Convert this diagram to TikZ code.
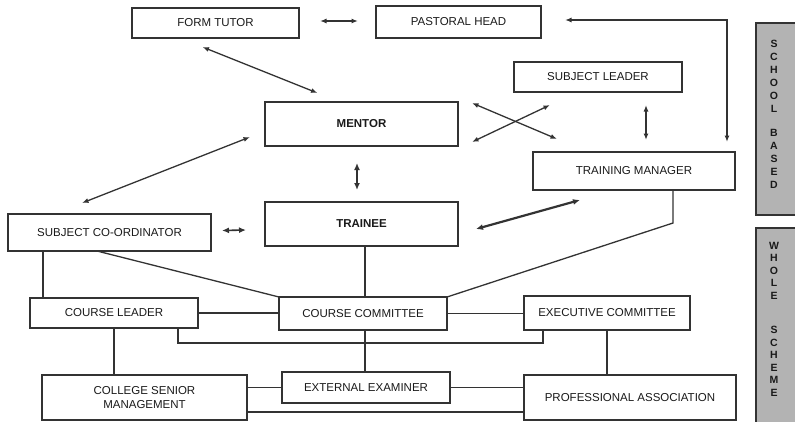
\documentclass[tikz,border=0pt]{standalone}
\usepackage{fontspec}
\setmainfont{Liberation Sans}
\usetikzlibrary{arrows.meta,calc}

\definecolor{ink}{HTML}{333333}
\definecolor{txt}{HTML}{1A1A1A}
\definecolor{bargray}{HTML}{B3B3B3}

\tikzset{
  box/.style={draw=ink, line width=1.4pt, fill=white, inner sep=0pt, outer sep=0pt,
              font=\fontsize{11.5}{14}\selectfont, text=txt, align=center},
  thickbox/.style={box, line width=2.8pt},
  link/.style={draw=ink, line width=1.3pt},
  biarrow/.style={link, {Latex[length=6.5pt,width=5pt]}-{Latex[length=6.5pt,width=5pt]}},
  boldarrow/.style={draw=ink, line width=2.2pt, {Latex[length=7pt,width=6pt]}-{Latex[length=7pt,width=6pt]}},
  bar/.style={draw=ink, line width=1.2pt, fill=bargray, inner sep=0pt, outer sep=0pt},
  barlabel/.style={font=\bfseries\fontsize{10.5}{13}\selectfont, text=txt, align=center, inner sep=0pt}
}

\begin{document}
\begin{tikzpicture}[x=1pt, y=-1pt]
\useasboundingbox (0,0) rectangle (795,421);

% school-based roles
\node[box, minimum width=167, minimum height=30] (ft) at (215.5,23) {FORM TUTOR};
\node[box, minimum width=165, minimum height=32] (ph) at (458.5,22) {PASTORAL HEAD};
\node[box, minimum width=168, minimum height=30] (sl) at (598,77) {SUBJECT LEADER};
\node[thickbox, minimum width=193, minimum height=44] (me) at (361.5,124) {\bfseries MENTOR};
\node[thickbox, minimum width=202, minimum height=38] (tm) at (634,171) {TRAINING MANAGER};
\node[thickbox, minimum width=193, minimum height=44] (tr) at (361.5,224) {\bfseries TRAINEE};
\node[thickbox, minimum width=203, minimum height=37] (sc) at (109.5,232.5) {SUBJECT CO-ORDINATOR};

% whole-scheme bodies
\node[box, minimum width=168, minimum height=30] (cl) at (114,313) {COURSE LEADER};
\node[box, minimum width=168, minimum height=33] (cc) at (363,313.5) {COURSE COMMITTEE};
\node[box, minimum width=166, minimum height=34] (ec) at (607,313) {EXECUTIVE COMMITTEE};
\node[box, minimum width=205, minimum height=45] (cs) at (144.5,397.5) {COLLEGE SENIOR\\MANAGEMENT};
\node[box, minimum width=168, minimum height=31] (ee) at (366,387.5) {EXTERNAL EXAMINER};
\node[box, minimum width=212, minimum height=45] (pa) at (630,397.5) {PROFESSIONAL ASSOCIATION};

% side bars
\node[bar, minimum width=44, minimum height=192] (sb) at (778,119) {};
\node[barlabel] (sbt) at (774,114) {S\\C\\H\\O\\O\\L\\[11pt]B\\A\\S\\E\\D};
\node[bar, minimum width=44, minimum height=200] (ws) at (778,328) {};
\node[barlabel, font=\bfseries\fontsize{10.5}{12.5}\selectfont] (wst) at (774,319) {W\\H\\O\\L\\E\\[22pt]S\\C\\H\\E\\M\\E};

% two-way relationships
\draw[biarrow] ($(ft.east)+(21,-2)$) -- ($(ph.west)+(-18,-1)$);
\draw[biarrow] ($(tm.north)+(93,-10)$) |- ($(ph.east)+(24,-2)$);
\draw[biarrow] ($(ft.south)+(-13,9)$) -- ($(me.north)+(-44,-9)$);
\draw[biarrow] ($(me.west)+(-15,13)$) -- ($(sc.north)+(-27.5,-11)$);
\draw[boldarrow, line width=1.8pt] ($(me.south)+(-4.5,17)$) -- ($(tr.north)+(-4.5,-12)$);
\draw[biarrow] ($(me.east)+(14,-21)$) -- ($(tm.north west)+(24,-13)$);
\draw[biarrow] ($(sl.south west)+(36,13)$) -- ($(me.east)+(14,18)$);
\draw[biarrow] ($(sl.south)+(48,13)$) -- ($(tm.north)+(12,-12)$);
\draw[boldarrow] ($(tr.east)+(18,5)$) -- ($(tm.south west)+(47,10)$);
\draw[boldarrow, line width=1.6pt] ($(sc.east)+(11,-2)$) -- ($(tr.west)+(-19,6)$);

% reporting lines
\draw[link] ($(tm.south)+(39,0)$) -- ++(0,33) -- (cc.north east);
\draw[link] ($(sc.south)+(-12.5,0)$) -- (cc.north west);
\draw[link] ($(sc.south west)+(35,0)$) -- ($(cl.north west)+(13,0)$);
\draw[link] ($(tr.south)+(3.5,0)$) -- ($(cc.north)+(2,0)$);
\draw[link] (cl.east) -- (cl.east -| cc.west);
\draw[link] (cc.east) -- (cc.east -| ec.west);
\draw[link] ($(cl.south east)+(-20,0)$) -- ++(0,15) -| ($(ec.south west)+(19,0)$);
\draw[link] ($(cc.south)+(2,0)$) -- ($(ee.north)+(-1,0)$);
\draw[link] (cl.south) -- (cl.south |- cs.north);
\draw[link] (ec.south) -- (ec.south |- pa.north);
\draw[link] (ee.west) -- (ee.west -| cs.east);
\draw[link] (ee.east) -- (ee.east -| pa.west);
\draw[link] ($(cs.east)+(0,14.5)$) -- ($(pa.west)+(0,14.5)$);
\end{tikzpicture}
\end{document}
